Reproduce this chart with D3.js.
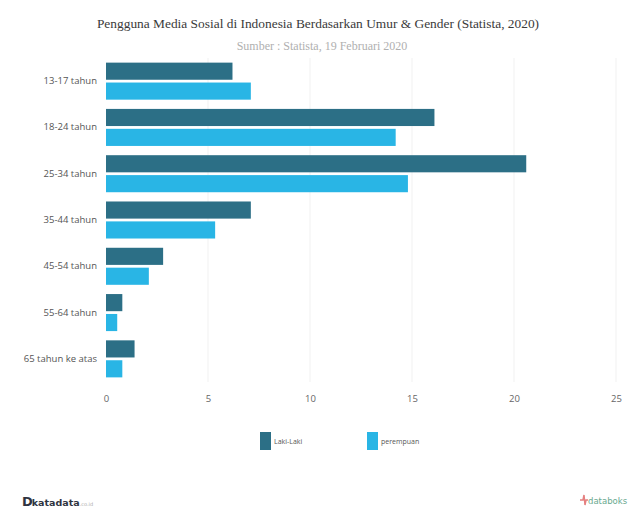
<!DOCTYPE html>
<html>
<head>
<meta charset="utf-8">
<script src="https://cdn.jsdelivr.net/npm/d3@7/dist/d3.min.js"></script>
<style>
  body { margin: 0; background: #fff; }
  svg { display: block; }
</style>
</head>
<body>
<svg id="chart" width="635" height="513"></svg>
<script>
const categories = ["13-17 tahun", "18-24 tahun", "25-34 tahun", "35-44 tahun", "45-54 tahun", "55-64 tahun", "65 tahun ke atas"];
const seriesNames = ["Laki-Laki", "perempuan"];
const lakiLaki = [6.2, 16.1, 20.6, 7.1, 2.8, 0.8, 1.4];
const perempuan = [7.1, 14.2, 14.8, 5.35, 2.1, 0.55, 0.8];
const xTicks = [0, 5, 10, 15, 20, 25];
const colors = ["#2c6f86", "#29b5e5"];
const titleText = "Pengguna Media Sosial di Indonesia Berdasarkan Umur & Gender (Statista, 2020)";
const subtitleText = "Sumber : Statista, 19 Februari 2020";

const svg = d3.select("#chart");
const W = 635, H = 513;
svg.append("rect").attr("width", W).attr("height", H).attr("fill", "#fff");

const margin = { left: 106 };
const x = d3.scaleLinear().domain([0, 25]).range([margin.left, 616]);
const y = d3.scaleBand().domain(categories).range([58, 382]).paddingInner(0.2).paddingOuter(0.1);
const sub = d3.scaleBand().domain(seriesNames).range([0, y.bandwidth()]).paddingInner(0.14);

// title
svg.append("text").attr("x", 318).attr("y", 28).attr("text-anchor", "middle")
  .attr("font-family", "'Liberation Serif', 'DejaVu Serif', serif").attr("font-size", 13.4)
  .attr("fill", "#3a3a3a").text(titleText);
svg.append("text").attr("x", 322).attr("y", 50).attr("text-anchor", "middle")
  .attr("font-family", "'Liberation Serif', 'DejaVu Serif', serif").attr("font-size", 12)
  .attr("fill", "#b0b0b0").text(subtitleText);

// grid
svg.append("g").selectAll("line").data(xTicks.slice(1)).join("line")
  .attr("x1", d => x(d)).attr("x2", d => x(d))
  .attr("y1", 58).attr("y2", 382)
  .attr("stroke", "#f1f1f1").attr("stroke-width", 1);

// x axis
const xAxis = svg.append("g").attr("transform", "translate(0,395)")
  .call(d3.axisBottom(x).tickValues(xTicks).tickSize(0).tickPadding(0));
xAxis.select(".domain").remove();
xAxis.selectAll("text").attr("font-family", "'Open Sans', 'DejaVu Sans', sans-serif")
  .attr("font-size", 9.5).attr("fill", "#666").attr("dy", "0.71em");

// y axis
const yAxis = svg.append("g").attr("transform", `translate(${margin.left},0)`)
  .call(d3.axisLeft(y).tickSize(0).tickPadding(9));
yAxis.select(".domain").remove();
yAxis.selectAll("text").attr("font-family", "'Open Sans', 'DejaVu Sans', sans-serif")
  .attr("font-size", 9.5).attr("fill", "#555");

// bars
const series = [lakiLaki, perempuan];
series.forEach((vals, si) => {
  svg.append("g").selectAll("rect").data(vals).join("rect")
    .attr("x", x(0))
    .attr("y", (d, i) => y(categories[i]) + sub(seriesNames[si]))
    .attr("width", d => x(d) - x(0))
    .attr("height", sub.bandwidth())
    .attr("fill", colors[si]);
});

// legend
const legendX = [260, 367];
seriesNames.forEach((n, i) => {
  const g = svg.append("g").attr("transform", `translate(${legendX[i]},432)`);
  g.append("rect").attr("width", 11).attr("height", 18).attr("fill", colors[i]);
  g.append("text").attr("x", 14).attr("y", 12).attr("font-family", "'Open Sans', 'DejaVu Sans', sans-serif")
    .attr("font-size", 7).attr("fill", "#555").text(n);
});

// footer: katadata
const f1 = svg.append("text").attr("x", 22).attr("y", 506)
  .attr("font-family", "'DejaVu Sans', sans-serif").attr("font-weight", "bold").attr("fill", "#2f3441");
f1.append("tspan").attr("font-size", 13).text("D");
f1.append("tspan").attr("font-size", 9.5).attr("dx", -1).text("katadata");
f1.append("tspan").attr("font-size", 5).attr("font-weight", "normal").attr("fill", "#aaa").text(".co.id");

// footer: databoks
const dg = svg.append("g").attr("transform", "translate(584,500)");
dg.append("path").attr("d", "M-4,0 L-1,0 L0,-5 L1,5 L2,0 L4,0").attr("fill", "none").attr("stroke", "#e58080").attr("stroke-width", 1.5);
svg.append("text").attr("x", 588).attr("y", 504).attr("font-family", "'DejaVu Sans', sans-serif")
  .attr("font-size", 8.5).attr("fill", "#6aa98f").text("databoks");
</script>
</body>
</html>
